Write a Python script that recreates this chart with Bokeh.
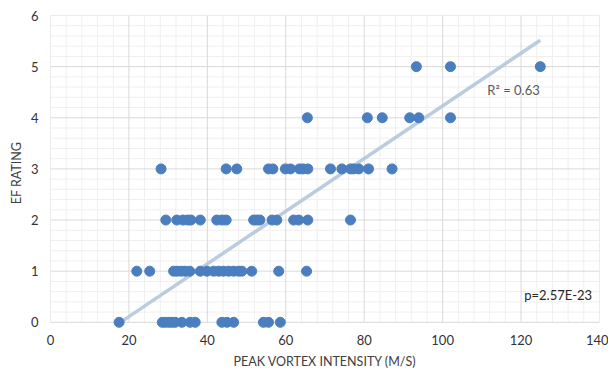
import numpy as np
from bokeh.plotting import figure
from bokeh.models import Range1d, FixedTicker, Label
from bokeh.embed import file_html
from bokeh.resources import INLINE

# ---- data (peak vortex intensity, m/s) by EF rating ----
ef0_intensity = [17.5, 28.5, 29.3, 30.2, 31.0, 31.8, 33.5, 35.6, 36.9, 43.7, 45.0, 46.7, 54.3, 55.6, 58.6]
ef1_intensity = [22.0, 25.3, 31.4, 32.3, 33.3, 34.3, 35.5, 38.2, 39.9, 41.6, 42.9, 44.1, 45.4, 46.7,
                 48.0, 48.8, 51.3, 58.2, 65.3]
ef2_intensity = [29.4, 32.2, 33.8, 35.0, 35.8, 38.2, 42.4, 43.7, 44.8, 51.8, 52.6, 53.4, 56.5, 57.7,
                 62.0, 63.3, 65.6, 76.5]
ef3_intensity = [28.2, 44.8, 47.5, 55.6, 56.7, 59.9, 61.2, 63.5, 64.4, 65.6, 71.4, 74.3, 76.5, 77.3,
                 78.6, 81.1, 87.1]
ef4_intensity = [65.5, 80.8, 84.6, 91.6, 93.9, 102.0]
ef5_intensity = [93.3, 102.0, 124.9]
ef_levels = [0, 1, 2, 3, 4, 5]

# linear trend line as shown in the reference
trend_slope = 0.0515
trend_intercept = -0.917
trend_x = [17.8, 124.9]

r2_text = "R² = 0.63"
p_text = "p=2.57E-23"

x_major = [0, 20, 40, 60, 80, 100, 120, 140]
y_major = [0, 1, 2, 3, 4, 5, 6]
x_minor_step = 4
y_minor_step = 0.2

# ---- build point table ----
groups = [ef0_intensity, ef1_intensity, ef2_intensity, ef3_intensity, ef4_intensity, ef5_intensity]
xs, ys = [], []
for lvl, g in zip(ef_levels, groups):
    xs.extend(g)
    ys.extend([lvl] * len(g))

FONT = "Lato"

p = figure(width=608, height=375, output_backend="svg", toolbar_location=None,
           x_range=Range1d(0, 140), y_range=Range1d(-0.16, 6),
           min_border_left=50, min_border_right=9, min_border_top=15, min_border_bottom=45)
p.xgrid.visible = False
p.ygrid.visible = False
p.outline_line_color = None
p.background_fill_color = "white"
p.border_fill_color = "white"

# ---- grid drawn manually from tick definitions (so it stops at y=0) ----
x0, x1 = x_major[0], x_major[-1]
y0, y1 = y_major[0], y_major[-1]
xmin = [v for v in np.arange(x0, x1 + 1e-9, x_minor_step) if v not in x_major]
ymin = [round(v, 3) for v in np.arange(y0, y1 + 1e-9, y_minor_step)]
ymin = [v for v in ymin if abs(v - round(v)) > 1e-6]

p.segment(x0=xmin, y0=[y0] * len(xmin), x1=xmin, y1=[y1] * len(xmin),
          line_color="#efefef", line_width=1, level="underlay")
p.segment(x0=[x0] * len(ymin), y0=ymin, x1=[x1] * len(ymin), y1=ymin,
          line_color="#efefef", line_width=1, level="underlay")
p.segment(x0=x_major, y0=[y0] * len(x_major), x1=x_major, y1=[y1] * len(x_major),
          line_color="#d9d9d9", line_width=1, level="underlay")
p.segment(x0=[x0] * len(y_major), y0=y_major, x1=[x1] * len(y_major), y1=y_major,
          line_color="#d9d9d9", line_width=1, level="underlay")

# ---- trend line ----
trend_y = [trend_slope * v + trend_intercept for v in trend_x]
p.line(trend_x, trend_y, line_color="#b4c7dc", line_width=3.5, line_alpha=0.9)

# ---- points ----
p.scatter(xs, ys, size=10, fill_color="#4a7ebf", line_color="#4a7ebf")

# ---- annotations ----
p.add_layout(Label(x=111.4, y=4.55, text=r2_text, text_font=FONT, text_font_size="13px",
                   text_color="#595959", text_baseline="middle", text_align="left"))
p.add_layout(Label(x=120.8, y=0.53, text=p_text, text_font=FONT, text_font_size="13px",
                   text_color="#262626", text_baseline="middle", text_align="left"))

# ---- axes ----
p.xaxis.ticker = FixedTicker(ticks=x_major)
p.yaxis.ticker = FixedTicker(ticks=y_major)
for ax in (p.xaxis[0], p.yaxis[0]):
    ax.axis_line_color = None
    ax.major_tick_line_color = None
    ax.minor_tick_line_color = None
    ax.major_tick_out = 0
    ax.major_tick_in = 0
    ax.minor_tick_out = 0
    ax.minor_tick_in = 0
    ax.major_label_text_font = FONT
    ax.major_label_text_font_size = "13px"
    ax.major_label_text_color = "#333333"
    ax.axis_label_text_font = FONT
    ax.axis_label_text_font_size = "12.5px"
    ax.axis_label_text_font_style = "normal"
    ax.axis_label_text_color = "#404040"

p.xaxis.axis_label = "PEAK VORTEX INTENSITY (M/S)"
p.yaxis.axis_label = "EF RATING"
p.xaxis.major_label_standoff = 4
p.xaxis.axis_label_standoff = 6
p.yaxis.major_label_standoff = 12
p.yaxis.axis_label_standoff = 4

open("out.html", "w").write(file_html(p, INLINE))
